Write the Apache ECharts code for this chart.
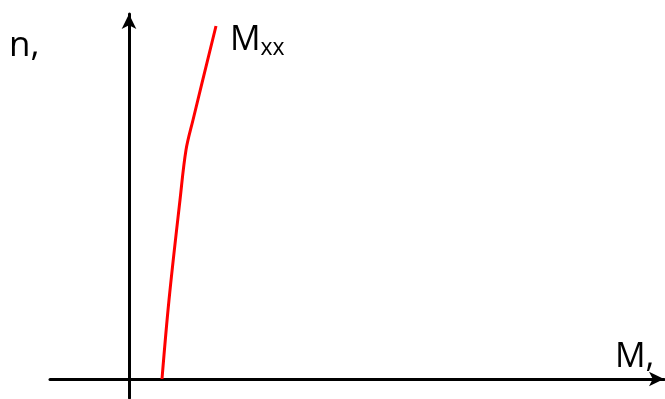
<!DOCTYPE html>
<html>
<head>
<meta charset="utf-8">
<script src="https://cdn.jsdelivr.net/npm/echarts@6/dist/echarts.min.js"></script>
<style>
  html, body { margin: 0; padding: 0; background: #fff; }
  #chart { width: 665px; height: 399px; }
</style>
</head>
<body>
<div id="chart"></div>
<script>
// curve points (M on x, n on y)
var curveM = [33, 40, 51, 57, 64, 87];
var curveN = [0, 79, 179, 229, 259, 353];
var xLabel = 'M,';
var yLabel = 'n,';
var seriesName = 'M';
var seriesSub = 'xx';

var chart = echarts.init(document.getElementById('chart'), null, { renderer: 'canvas' });

var axisLine = {
    show: true,
    onZero: true,
    symbol: ['none', 'arrow'],
    symbolSize: [11, 15],
    lineStyle: { color: '#000', width: 3 }
};

var option = {
    animation: false,
    backgroundColor: '#fff',
    grid: { left: 50, right: 1, top: 14, bottom: 1 },
    xAxis: {
        type: 'value', min: -79, max: 535,
        axisLine: axisLine,
        axisTick: { show: false },
        axisLabel: { show: false },
        splitLine: { show: false }
    },
    yAxis: {
        type: 'value', min: -19, max: 365,
        axisLine: axisLine,
        axisTick: { show: false },
        axisLabel: { show: false },
        splitLine: { show: false }
    },
    series: [{
        type: 'line',
        data: curveM.map(function (m, i) { return [m, curveN[i]]; }),
        smooth: 0.35,
        showSymbol: false,
        lineStyle: { color: '#ff0000', width: 3 },
        endLabel: {
            show: true,
            distance: 14,
            offset: [0, 14],
            formatter: '{m|' + seriesName + '}{s|' + seriesSub + '}',
            rich: {
                m: { fontFamily: 'Open Sans', fontSize: 34, color: '#000' },
                s: { fontFamily: 'Open Sans', fontSize: 23, color: '#000', padding: [16, 0, 0, 0] }
            }
        }
    }],
    graphic: [
        {
            type: 'text', left: 9, top: 29,
            style: { text: yLabel, fontFamily: 'Open Sans', fontSize: 35, fill: '#000' }
        },
        {
            type: 'text', left: 615, top: 340,
            style: { text: xLabel, fontFamily: 'Open Sans', fontSize: 34, fill: '#000' }
        }
    ]
};

chart.setOption(option);
</script>
</body>
</html>
